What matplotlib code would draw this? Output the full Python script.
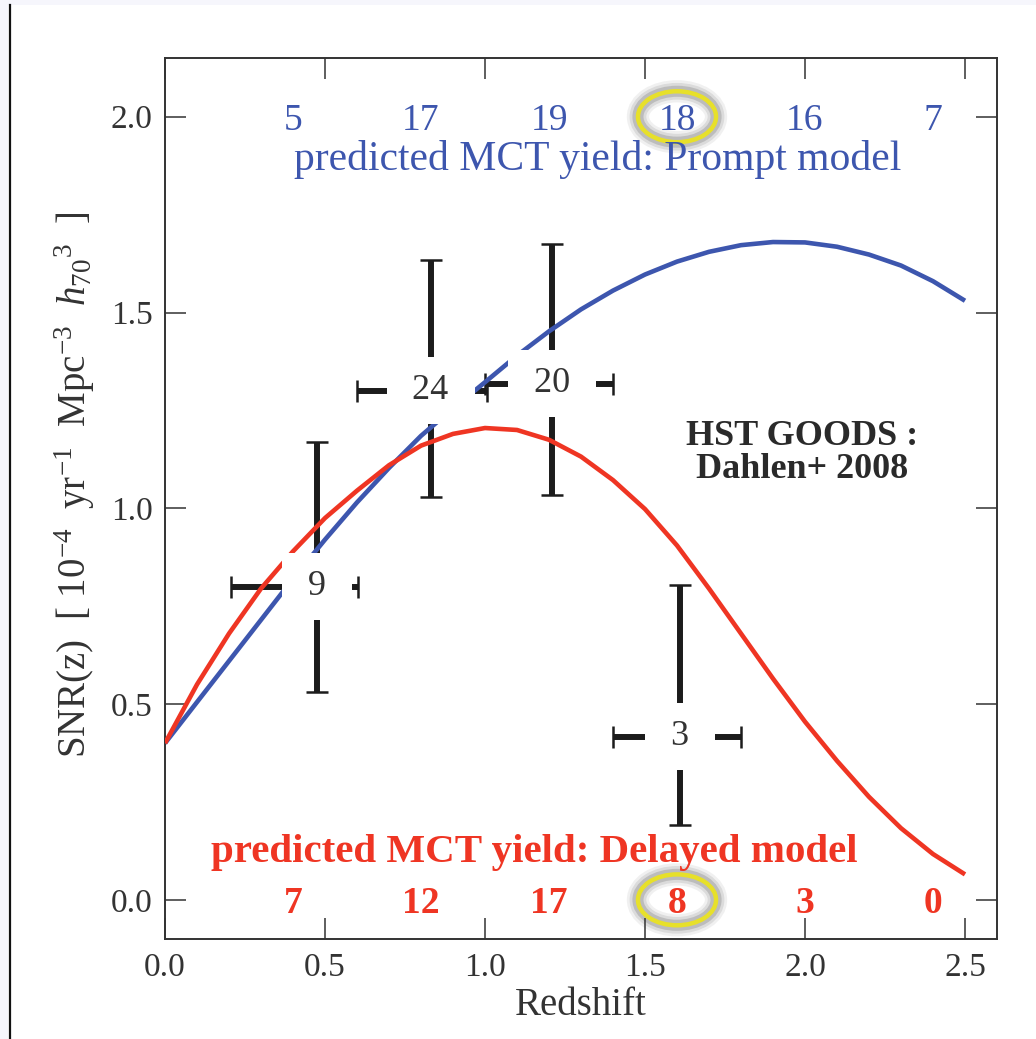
import numpy as np
import matplotlib.pyplot as plt
from matplotlib.patches import Ellipse, Rectangle
from matplotlib.lines import Line2D

plt.rcParams['font.family'] = ['Liberation Serif', 'DejaVu Serif']
plt.rcParams['mathtext.fontset'] = 'custom'
plt.rcParams['mathtext.rm'] = 'Liberation Serif'
plt.rcParams['mathtext.it'] = 'Liberation Serif:italic'
plt.rcParams['mathtext.bf'] = 'Liberation Serif:bold'

BLUE = '#3d56ae'
RED = '#ef3523'
INK = '#1c1c1c'
GREY = '#333333'

# model SN rate curves
z_grid = [0.0, 0.1, 0.2, 0.3, 0.4, 0.5, 0.6, 0.7, 0.8, 0.9, 1.0, 1.1, 1.2,
          1.3, 1.4, 1.5, 1.6, 1.7, 1.8, 1.9, 2.0, 2.1, 2.2, 2.3, 2.4, 2.5]
snr_prompt = [0.40, 0.505, 0.61, 0.715, 0.82, 0.92, 1.015, 1.103, 1.185,
              1.255, 1.322, 1.39, 1.452, 1.508, 1.556, 1.597, 1.63, 1.655,
              1.672, 1.68, 1.679, 1.668, 1.648, 1.62, 1.58, 1.53]
snr_delayed = [0.40, 0.55, 0.68, 0.795, 0.89, 0.975, 1.045, 1.11, 1.16,
               1.19, 1.205, 1.20, 1.175, 1.132, 1.072, 0.998, 0.905, 0.795,
               0.68, 0.565, 0.455, 0.355, 0.263, 0.183, 0.117, 0.065]

# GOODS binned rates
bin_z = np.array([0.475, 0.83, 1.21, 1.61])
bin_zlo = np.array([0.205, 0.60, 1.00, 1.40])
bin_zhi = np.array([0.603, 1.005, 1.40, 1.80])
bin_snr = np.array([0.80, 1.30, 1.318, 0.417])
bin_snr_lo = np.array([0.53, 1.03, 1.034, 0.19])
bin_snr_hi = np.array([1.17, 1.633, 1.676, 0.804])
bin_n = ['9', '24', '20', '3']

# predicted MCT yields per redshift slice
yield_z = [0.4, 0.8, 1.2, 1.6, 2.0, 2.4]
yield_prompt = [5, 17, 19, 18, 16, 7]
yield_delayed = [7, 12, 17, 8, 3, 0]
highlight = 3

W, H = 1036, 1039
fig = plt.figure(figsize=(W / 100, H / 100), dpi=100)

# page edge: pale band and a dark rule on the left
fig.add_artist(Rectangle((0, 1 - 5 / H), 1, 5 / H, transform=fig.transFigure,
                         color='#f6f6fc', lw=0))
fig.add_artist(Rectangle((0, 0), 8 / W, 1, transform=fig.transFigure,
                         color='#f6f6fc', lw=0))
fig.add_artist(Line2D([9.5 / W, 9.5 / W], [0, 1 - 5 / H], transform=fig.transFigure,
                      color='#111111', lw=1.6))

left, right, top, bottom = 165, 997, 58, 939
ax = fig.add_axes([left / W, 1 - bottom / H, (right - left) / W, (bottom - top) / H])
ax.set_xlim(0, 2.6)
ax.set_ylim(-0.1, 2.15)

ax.errorbar(bin_z, bin_snr,
            xerr=[bin_z - bin_zlo, bin_zhi - bin_z],
            yerr=[bin_snr - bin_snr_lo, bin_snr_hi - bin_snr],
            fmt='none', ecolor=INK, elinewidth=4.3, capsize=8, capthick=1.8,
            zorder=2)

ax.plot(z_grid, snr_prompt, color=BLUE, lw=3.3, zorder=3, solid_capstyle='butt')
ax.plot(z_grid, snr_delayed, color=RED, lw=3.3, zorder=3, solid_capstyle='butt')

# event counts sit on white patches that break the bars
for zc, yc, n in zip(bin_z, bin_snr, bin_n):
    ax.text(zc, yc, f' {n} ', ha='center', va='center', fontsize=26, color=GREY,
            zorder=4, bbox=dict(boxstyle='square,pad=0.47', fc='white', ec='none'))

for zc, a, b in zip(yield_z, yield_prompt, yield_delayed):
    ax.text(zc, 2.0, str(a), ha='center', va='center_baseline', fontsize=27,
            color=BLUE, zorder=6)
    ax.text(zc, 0.0, str(b), ha='center', va='center_baseline', fontsize=27,
            color=RED, fontweight='bold', zorder=6)

ax.text(1.352, 1.89, 'predicted MCT yield: Prompt model', ha='center',
        va='center', fontsize=30, color=BLUE, zorder=6)
ax.text(1.153, 0.12, 'predicted MCT yield: Delayed model', ha='center',
        va='center', fontsize=29.5, color=RED, fontweight='bold', zorder=6)

ax.text(1.99, 1.14, 'HST GOODS :\nDahlen+ 2008', ha='center', va='center',
        fontsize=26, fontweight='bold', color='#2a2a2a', linespacing=1.0,
        zorder=6)

# highlight rings with a soft shadow
for yc in (2.0, 0.0):
    zc = yield_z[highlight]
    for lw, a in [(16, 0.07), (12, 0.11), (8, 0.18)]:
        ax.add_patch(Ellipse((zc, yc), 0.244, 0.13, fill=False,
                             ec=(0.2, 0.2, 0.2, a), lw=lw, zorder=5))
    ax.add_patch(Ellipse((zc, yc), 0.244, 0.13, fill=False, ec='#e7e02a',
                         lw=3.2, zorder=5.5))

ax.set_xticks([0.0, 0.5, 1.0, 1.5, 2.0, 2.5])
ax.set_yticks([0.0, 0.5, 1.0, 1.5, 2.0])
ax.xaxis.set_major_formatter(plt.FormatStrFormatter('%.1f'))
ax.yaxis.set_major_formatter(plt.FormatStrFormatter('%.1f'))
ax.tick_params(direction='in', length=15, width=1.1, top=True, right=True,
               labelsize=24, colors=GREY, pad=10)
ax.tick_params(axis='y', pad=9)
for s in ax.spines.values():
    s.set_color(GREY)
    s.set_linewidth(1.4)

ax.set_xlabel('Redshift', fontsize=28, color=GREY)
ax.xaxis.set_label_coords(0.5, -0.055)
ax.set_ylabel(r'SNR(z)  [ 10$^{-4}$  yr$^{-1}$  Mpc$^{-3}$  $h_{70}$$^{3}$  ]',
              fontsize=28, color=GREY)
ax.yaxis.set_label_coords(-0.082, 0.515)

fig.savefig('out.png', dpi=100, facecolor='white')
